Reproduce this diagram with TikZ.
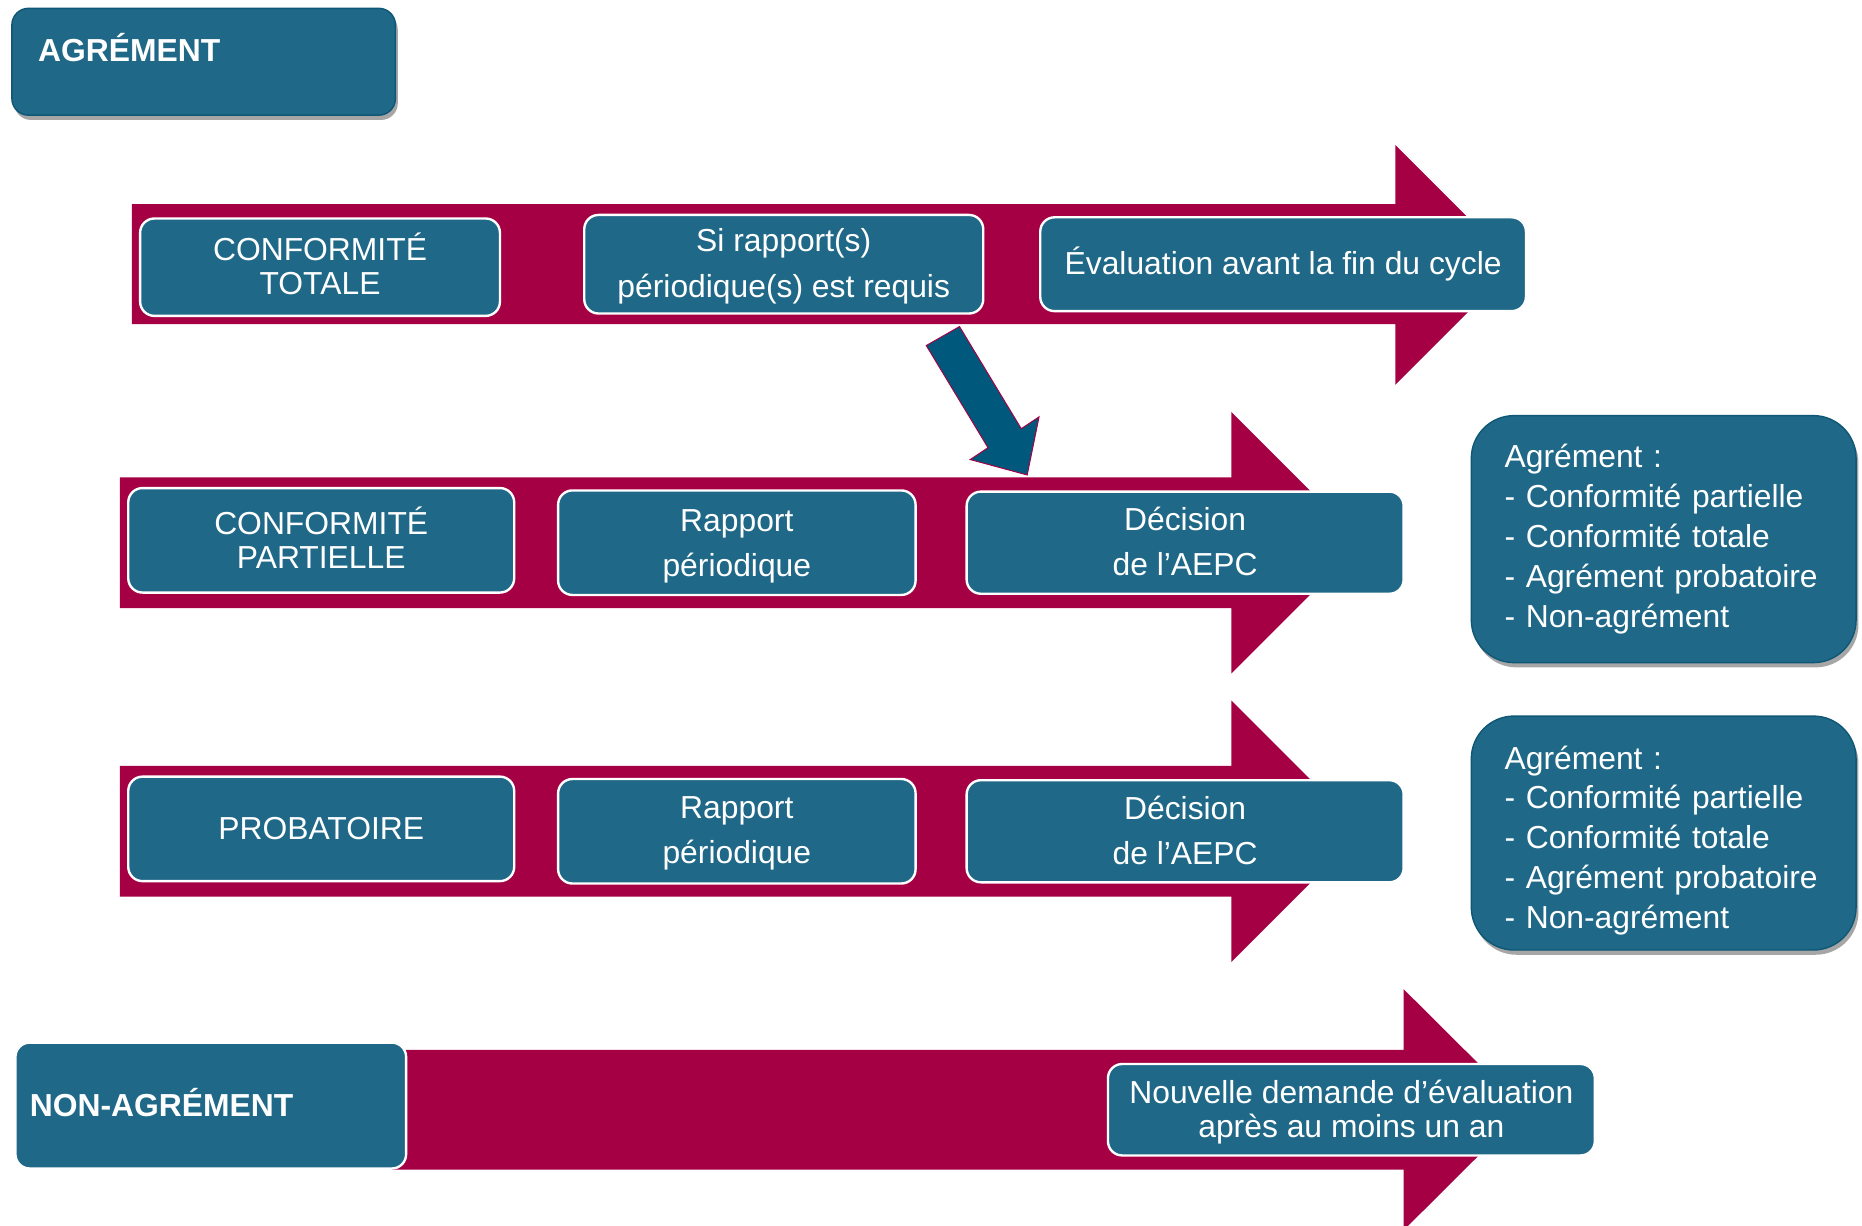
\documentclass[tikz,border=0pt]{standalone}
\usepackage{fontspec}
\setmainfont{Liberation Sans}
\usetikzlibrary{shadows}
\definecolor{crim}{RGB}{165,0,68}
\definecolor{tealbox}{RGB}{31,104,135}
\definecolor{tealedge}{RGB}{14,88,118}
\definecolor{darrow}{RGB}{0,88,124}
\tikzset{
  rowbox/.style={draw=white, line width=2pt, fill=tealbox, rounded corners=12pt,
    text=white, align=center, inner sep=0pt, font=\fontsize{26.8}{29}\selectfont},
  boxtext/.style={text=white, align=center, inner sep=0pt, font=\fontsize{26.8}{29}\selectfont},
  headbox/.style={draw=tealedge, line width=1.2pt, fill=tealbox, rounded corners=14pt,
    drop shadow={shadow xshift=2pt, shadow yshift=-4pt, fill=black!35, opacity=1}},
  listbox/.style={draw=tealedge, line width=1.2pt, fill=tealbox, rounded corners=36pt,
    minimum width=324pt,
    drop shadow={shadow xshift=2pt, shadow yshift=-4pt, fill=black!35, opacity=1}},
  listtext/.style={text=white, align=left, inner sep=0pt, text width=268pt,
    font=\fontsize{26.8}{33.5}\selectfont},
  bartrack/.style={fill=crim},
  headtext/.style={text=white, font=\bfseries\fontsize{26.8}{29}\selectfont, inner sep=0pt},
}
\begin{document}
\begin{tikzpicture}[x=1pt, y=-1pt]
\useasboundingbox (0,0) rectangle (1568,1032);
\clip (0,0) rectangle (1568,1032);

% header
\node[headbox, minimum width=323pt, minimum height=90pt] (agr) at (171.5,52) {};
\node[headtext, anchor=base west] (agrt) at (32,51.7) {AGRÉMENT};

% row 1
\fill[bartrack] (111,172) -- (1175,172) -- (1175,122) -- (1276,223) -- (1175,324) -- (1175,273) -- (111,273) -- cycle;
\node[rowbox, minimum width=303pt, minimum height=82pt,
  label={[boxtext, yshift=3pt]center:{CONFORMITÉ\\TOTALE}}] (ct) at (269.5,225) {};
\node[rowbox, minimum width=336pt, minimum height=83pt,
  label={[boxtext, yshift=-2pt, font=\fontsize{26.8}{39}\selectfont]center:{Si rapport(s)\\périodique(s) est requis}}] (sr) at (660,222.5) {};
\node[rowbox, minimum width=409pt, minimum height=79pt] (ev) at (1080.5,222.5) {Évaluation avant la fin du cycle};

% row 2
\fill[bartrack] (101,402) -- (1037,402) -- (1037,347) -- (1147,457) -- (1037,567) -- (1037,512) -- (101,512) -- cycle;
\node[rowbox, minimum width=325pt, minimum height=88pt,
  label={[boxtext, yshift=2pt, font=\fontsize{26.8}{28.5}\selectfont]center:{CONFORMITÉ\\PARTIELLE}}] (cp) at (270.5,455) {};
\node[rowbox, minimum width=301pt, minimum height=88pt,
  label={[boxtext, yshift=-3pt, font=\fontsize{26.8}{38}\selectfont]center:{Rapport\\périodique}}] (rp1) at (620.5,457) {};
\node[rowbox, minimum width=368pt, minimum height=86pt,
  label={[boxtext, yshift=1pt, font=\fontsize{26.8}{38}\selectfont]center:{Décision\\de l’AEPC}}] (de1) at (998,457) {};

% row 3
\fill[bartrack] (101,645) -- (1037,645) -- (1037,590) -- (1147,700) -- (1037,810) -- (1037,755) -- (101,755) -- cycle;
\node[rowbox, minimum width=325pt, minimum height=88pt] (pb) at (270.5,698) {PROBATOIRE};
\node[rowbox, minimum width=301pt, minimum height=88pt,
  label={[boxtext, yshift=-2pt, font=\fontsize{26.8}{38}\selectfont]center:{Rapport\\périodique}}] (rp2) at (620.5,700) {};
\node[rowbox, minimum width=368pt, minimum height=86pt,
  label={[boxtext, yshift=1pt, font=\fontsize{26.8}{38}\selectfont]center:{Décision\\de l’AEPC}}] (de2) at (998,700) {};

% right list boxes
\node[listbox, minimum height=208pt,
  label={[listtext]center:{Agrément :\\- Conformité partielle\\- Conformité totale\\- Agrément probatoire\\- Non-agrément}}] (l1) at (1401,454) {};
\node[listbox, minimum height=197pt,
  label={[listtext, yshift=-6pt]center:{Agrément :\\- Conformité partielle\\- Conformité totale\\- Agrément probatoire\\- Non-agrément}}] (l2) at (1401,701.5) {};

% row 4
\fill[bartrack] (330,884) -- (1182,884) -- (1182,833) -- (1284,934.5) -- (1182,1036) -- (1182,985) -- (330,985) -- cycle;
\node[rowbox, minimum width=329pt, minimum height=106pt] (na) at (177.5,931) {};
\node[headtext, anchor=base west] (nat) at (25,940) {NON-AGRÉMENT};
\node[rowbox, minimum width=410pt, minimum height=77pt,
  label={[boxtext, yshift=-2pt, font=\fontsize{26.8}{28}\selectfont]center:{Nouvelle demande d’évaluation\\après au moins un an}}] (nd) at (1138,934.5) {};

% blue down arrow from "Si rapport" toward "Décision"
\coordinate (as) at (794,283);
\coordinate (at) at (865,400);
\fill[darrow, draw=crim, line width=0.8pt] (808,275) -- (860,361) -- (875,351) -- (at) -- (817,387) -- (832,377) -- (780,291) -- cycle;
\end{tikzpicture}
\end{document}
